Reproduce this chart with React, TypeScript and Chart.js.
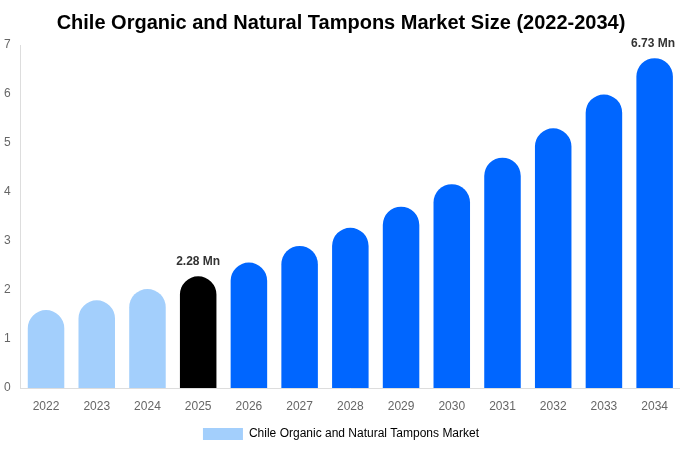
import { useEffect, useRef } from 'react'
import { Chart, registerables } from 'chart.js'

Chart.register(...registerables)

const years = ['2022', '2023', '2024', '2025', '2026', '2027', '2028', '2029', '2030', '2031', '2032', '2033', '2034']
const marketSize = [1.59, 1.79, 2.02, 2.28, 2.56, 2.9, 3.27, 3.7, 4.16, 4.7, 5.3, 5.99, 6.73]
const barColors = [
  '#a3cffc', '#a3cffc', '#a3cffc', '#000000',
  '#0066ff', '#0066ff', '#0066ff', '#0066ff', '#0066ff',
  '#0066ff', '#0066ff', '#0066ff', '#0066ff',
]
const labelledYears = ['2025', '2034']
const yTicks = [0, 1, 2, 3, 4, 5, 6, 7]

// draws the "x.xx Mn" notes over chosen bars
const valueLabels = {
  id: 'valueLabels',
  afterDatasetsDraw(chart: Chart) {
    const { ctx } = chart
    const meta = chart.getDatasetMeta(0)
    ctx.save()
    ctx.font = 'bold 12px "Liberation Sans", Arial, sans-serif'
    ctx.fillStyle = '#333333'
    ctx.textAlign = 'center'
    ctx.textBaseline = 'bottom'
    meta.data.forEach((bar: any, i: number) => {
      if (!labelledYears.includes(years[i])) return
      const text = `${marketSize[i].toFixed(2)} Mn`
      const half = ctx.measureText(text).width / 2
      // keep the note inside the canvas
      const x = Math.min(bar.x, chart.width - half - 5)
      ctx.fillText(text, x, bar.y - 9)
    })
    ctx.restore()
  },
}

export default function App() {
  const canvasRef = useRef<HTMLCanvasElement | null>(null)
  const chartRef = useRef<Chart | null>(null)

  useEffect(() => {
    document.body.style.margin = '0'
    if (!canvasRef.current) return
    const ctx = canvasRef.current.getContext('2d')
    if (!ctx) return

    chartRef.current = new Chart(ctx, {
      type: 'bar',
      data: {
        labels: years,
        datasets: [
          {
            label: 'Chile Organic and Natural Tampons Market',
            data: marketSize,
            backgroundColor: barColors,
            borderRadius: { topLeft: 100, topRight: 100 },
            borderSkipped: 'bottom',
            categoryPercentage: 0.72,
            barPercentage: 1,
          },
        ],
      },
      options: {
        responsive: false,
        animation: false,
        layout: { padding: { left: 2, right: 0, top: 0, bottom: 0 } },
        plugins: {
          title: {
            display: true,
            text: 'Chile Organic and Natural Tampons Market Size (2022-2034)',
            color: '#000000',
            font: { size: 20, weight: 'bold', family: '"Liberation Sans", Arial, sans-serif' },
            padding: { top: 11, bottom: 10 },
          },
          legend: {
            position: 'bottom',
            labels: {
              color: '#666666',
              boxWidth: 40,
              boxHeight: 12,
              padding: 10,
              font: { size: 12, family: '"Liberation Sans", Arial, sans-serif' },
              generateLabels: () => [
                {
                  text: 'Chile Organic and Natural Tampons Market',
                  fillStyle: '#a3cffc',
                  strokeStyle: '#a3cffc',
                  lineWidth: 0,
                  hidden: false,
                  datasetIndex: 0,
                },
              ],
            },
          },
          tooltip: { enabled: false },
        },
        scales: {
          x: {
            grid: { display: false },
            border: { display: true, color: '#dddddd' },
            ticks: {
              color: '#666666',
              padding: 5,
              font: { size: 12, lineHeight: 1, family: '"Liberation Sans", Arial, sans-serif' },
            },
          },
          y: {
            min: yTicks[0],
            max: yTicks[yTicks.length - 1],
            grid: { display: false },
            border: { display: true, color: '#dddddd' },
            afterBuildTicks: (axis: any) => {
              axis.ticks = yTicks.map((v) => ({ value: v }))
            },
            ticks: {
              color: '#666666',
              padding: 2,
              font: { size: 12, family: '"Liberation Sans", Arial, sans-serif' },
            },
          },
        },
      },
      plugins: [valueLabels],
    })

    return () => {
      chartRef.current?.destroy()
      chartRef.current = null
    }
  }, [])

  return (
    <div style={{ position: 'absolute', left: 0, top: 0, width: 680, height: 450, background: '#ffffff' }}>
      <canvas ref={canvasRef} width={680} height={450} style={{ width: 680, height: 450 }}></canvas>
    </div>
  )
}
